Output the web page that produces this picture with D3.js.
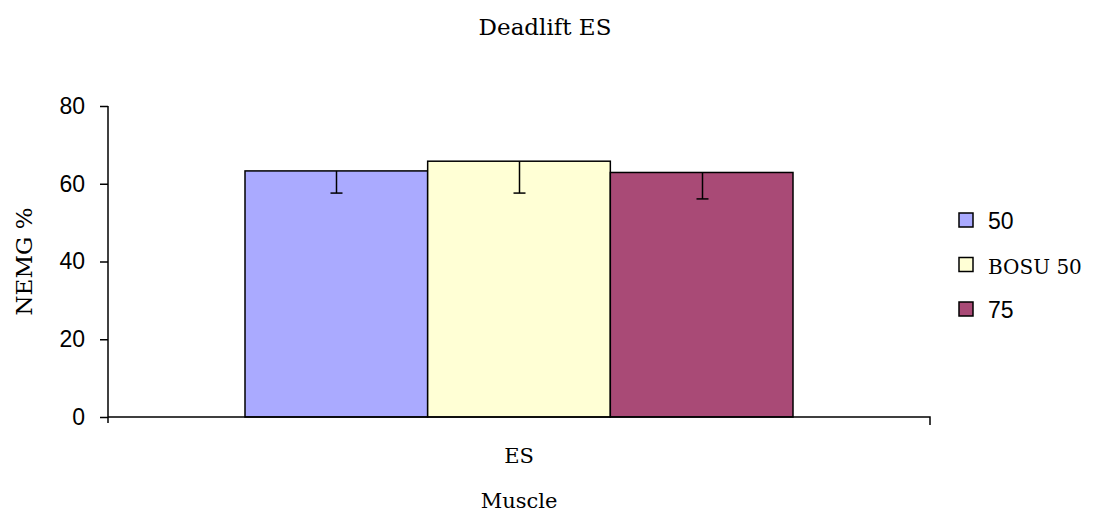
<!DOCTYPE html>
<html>
<head>
<meta charset="utf-8">
<script src="https://cdn.jsdelivr.net/npm/d3@7"></script>
<style>
  body { margin: 0; background: #fff; }
  .serif { font-family: "DejaVu Serif", "Liberation Serif", serif; }
  .sans { font-family: "Liberation Sans", Arial, sans-serif; }
</style>
</head>
<body>
<div id="chart"></div>
<script>
const categories = ['ES'];
const seriesNames = ['50', 'BOSU 50', '75'];
const seriesValues = [63.3, 65.8, 62.9];
const seriesErrors = [5.7, 8.2, 6.8];
const seriesColors = ['#aaaaff', '#ffffd5', '#a94a76'];
const yTicks = [0, 20, 40, 60, 80];

const width = 1097, height = 515;
const margin = { left: 108, right: 167, top: 106, bottom: 98 };

const svg = d3.select('#chart').append('svg')
    .attr('width', width)
    .attr('height', height);

const x = d3.scaleBand()
    .domain(categories)
    .range([margin.left, width - margin.right])
    .paddingInner(0)
    .paddingOuter(0.25);

const xs = d3.scaleBand()
    .domain(seriesNames)
    .range([0, x.bandwidth()]);

const y = d3.scaleLinear()
    .domain([0, 80])
    .range([height - margin.bottom, margin.top]);

// title
svg.append('text')
    .attr('class', 'serif')
    .attr('x', 545).attr('y', 35)
    .attr('text-anchor', 'middle')
    .style('font-size', '23px')
    .text('Deadlift ES');

// bars
const g = svg.append('g');
seriesNames.forEach((s, i) => {
    const bx = x(categories[0]) + xs(s);
    g.append('rect')
        .attr('x', bx)
        .attr('y', y(seriesValues[i]))
        .attr('width', xs.bandwidth())
        .attr('height', y(0) - y(seriesValues[i]))
        .attr('fill', seriesColors[i])
        .attr('stroke', '#000')
        .attr('stroke-width', 1.5);

    // error bar (minus only)
    const cx = Math.round(bx + xs.bandwidth() / 2) + 0.5;
    const lo = y(seriesValues[i] - seriesErrors[i]);
    g.append('line')
        .attr('x1', cx).attr('x2', cx)
        .attr('y1', y(seriesValues[i])).attr('y2', lo)
        .attr('stroke', '#000').attr('stroke-width', 1.5);
    g.append('line')
        .attr('x1', cx - 6).attr('x2', cx + 6)
        .attr('y1', lo).attr('y2', lo)
        .attr('stroke', '#000').attr('stroke-width', 1.5);
});

// y axis
const yAxis = svg.append('g')
    .attr('transform', 'translate(' + margin.left + ',0)')
    .call(d3.axisLeft(y).tickValues(yTicks).tickSize(8).tickPadding(15));
yAxis.select('.domain').attr('stroke-width', 1.5).attr('d', 'M0,' + y(80) + 'V' + (y(0) + 6));
yAxis.selectAll('.tick line').attr('stroke-width', 1.5);
yAxis.selectAll('text')
    .attr('class', 'sans')
    .style('font-size', '23px')
    .attr('fill', '#000');

// x axis
const xAxis = svg.append('g')
    .attr('transform', 'translate(0,' + y(0) + ')');
xAxis.append('path')
    .attr('d', 'M' + margin.left + ',0H' + (width - margin.right) + 'V8')
    .attr('fill', 'none')
    .attr('stroke', '#000')
    .attr('stroke-width', 1.5);
xAxis.selectAll('text.cat')
    .data(categories)
    .enter().append('text')
    .attr('class', 'serif')
    .attr('x', d => x(d) + x.bandwidth() / 2)
    .attr('y', 46)
    .attr('text-anchor', 'middle')
    .style('font-size', '21px')
    .text(d => d);

// axis titles
svg.append('text')
    .attr('class', 'serif')
    .attr('x', x(categories[0]) + x.bandwidth() / 2)
    .attr('y', 508)
    .attr('text-anchor', 'middle')
    .style('font-size', '21px')
    .text('Muscle');

svg.append('text')
    .attr('class', 'serif')
    .attr('transform', 'translate(32,' + y(40) + ') rotate(-90)')
    .attr('text-anchor', 'middle')
    .style('font-size', '23px')
    .text('NEMG %');

// legend
const legend = svg.append('g')
    .selectAll('g')
    .data(seriesNames)
    .enter().append('g')
    .attr('transform', (d, i) => 'translate(959,' + (213 + i * 44.5) + ')');
legend.append('rect')
    .attr('width', 14).attr('height', 14)
    .attr('fill', (d, i) => seriesColors[i])
    .attr('stroke', '#000')
    .attr('stroke-width', 1.5);
legend.append('text')
    .attr('class', d => /^\d+$/.test(d) ? 'sans' : 'serif')
    .attr('x', 29).attr('y', 16)
    .style('font-size', d => /^\d+$/.test(d) ? '23px' : '20px')
    .text(d => d);
</script>
</body>
</html>
